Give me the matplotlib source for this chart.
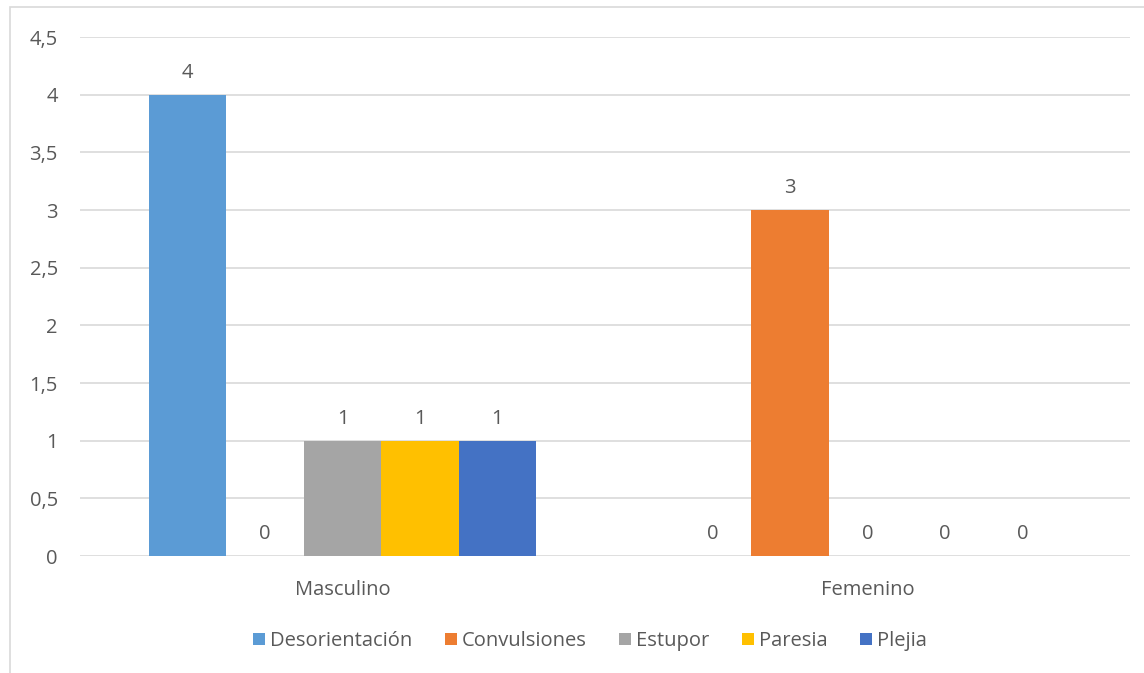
import matplotlib.pyplot as plt
import numpy as np
from matplotlib.patches import Rectangle

plt.rcParams['font.family'] = ['Open Sans', 'DejaVu Sans']

categories = ['Masculino', 'Femenino']
series = ['Desorientación', 'Convulsiones', 'Estupor', 'Paresia', 'Plejia']
values = [
    [4, 0],  # Desorientación
    [0, 3],  # Convulsiones
    [1, 0],  # Estupor
    [1, 0],  # Paresia
    [1, 0],  # Plejia
]
colors = ['#5B9BD5', '#ED7D31', '#A5A5A5', '#FFC000', '#4472C4']
yticks = [0, 0.5, 1, 1.5, 2, 2.5, 3, 3.5, 4, 4.5]
ytick_labels = ['0', '0,5', '1', '1,5', '2', '2,5', '3', '3,5', '4', '4,5']

text_color = '#595959'
grid_color = '#D9D9D9'
fs = 14.5

fig = plt.figure(figsize=(11.44, 6.73), dpi=100)
ax = fig.add_axes([80 / 1144, 1 - 556 / 673, 1050 / 1144, (556 - 37) / 673])

# marco del gráfico
fig.patches.append(Rectangle((10 / 1144, -0.01), 1.2, 1 - 7 / 673 + 0.01,
                             transform=fig.transFigure, fill=False,
                             edgecolor=grid_color, linewidth=1.2))

x = np.arange(len(categories))
w = 0.1476
for i, (name, vals) in enumerate(zip(series, values)):
    offs = (i - 2) * w
    ax.bar(x + offs, vals, width=w, color=colors[i], label=name, zorder=3)
    for xi, v in zip(x + offs, vals):
        ax.text(xi, v + 0.1, f'{v}', ha='center', va='bottom',
                fontsize=fs, color=text_color)

ax.set_xlim(-0.5, 1.5)
ax.set_ylim(0, 4.5)
ax.set_yticks(yticks)
ax.set_yticklabels(ytick_labels, fontsize=fs, color=text_color)
ax.set_xticks(x)
ax.set_xticklabels(categories, fontsize=fs, color=text_color)
ax.tick_params(axis='both', length=0)
ax.tick_params(axis='y', pad=16)
ax.tick_params(axis='x', pad=17)
ax.grid(axis='y', color=grid_color, linewidth=1.2, zorder=0)
for s in ax.spines.values():
    s.set_visible(False)

ax.legend(loc='center', bbox_to_anchor=(590 / 1144, 1 - 641 / 673),
          bbox_transform=fig.transFigure, ncol=5, frameon=False,
          fontsize=fs, labelcolor=text_color, handlelength=0.6,
          handleheight=0.6, handletextpad=0.25, columnspacing=1.6)

fig.savefig('out.png', dpi=100)
